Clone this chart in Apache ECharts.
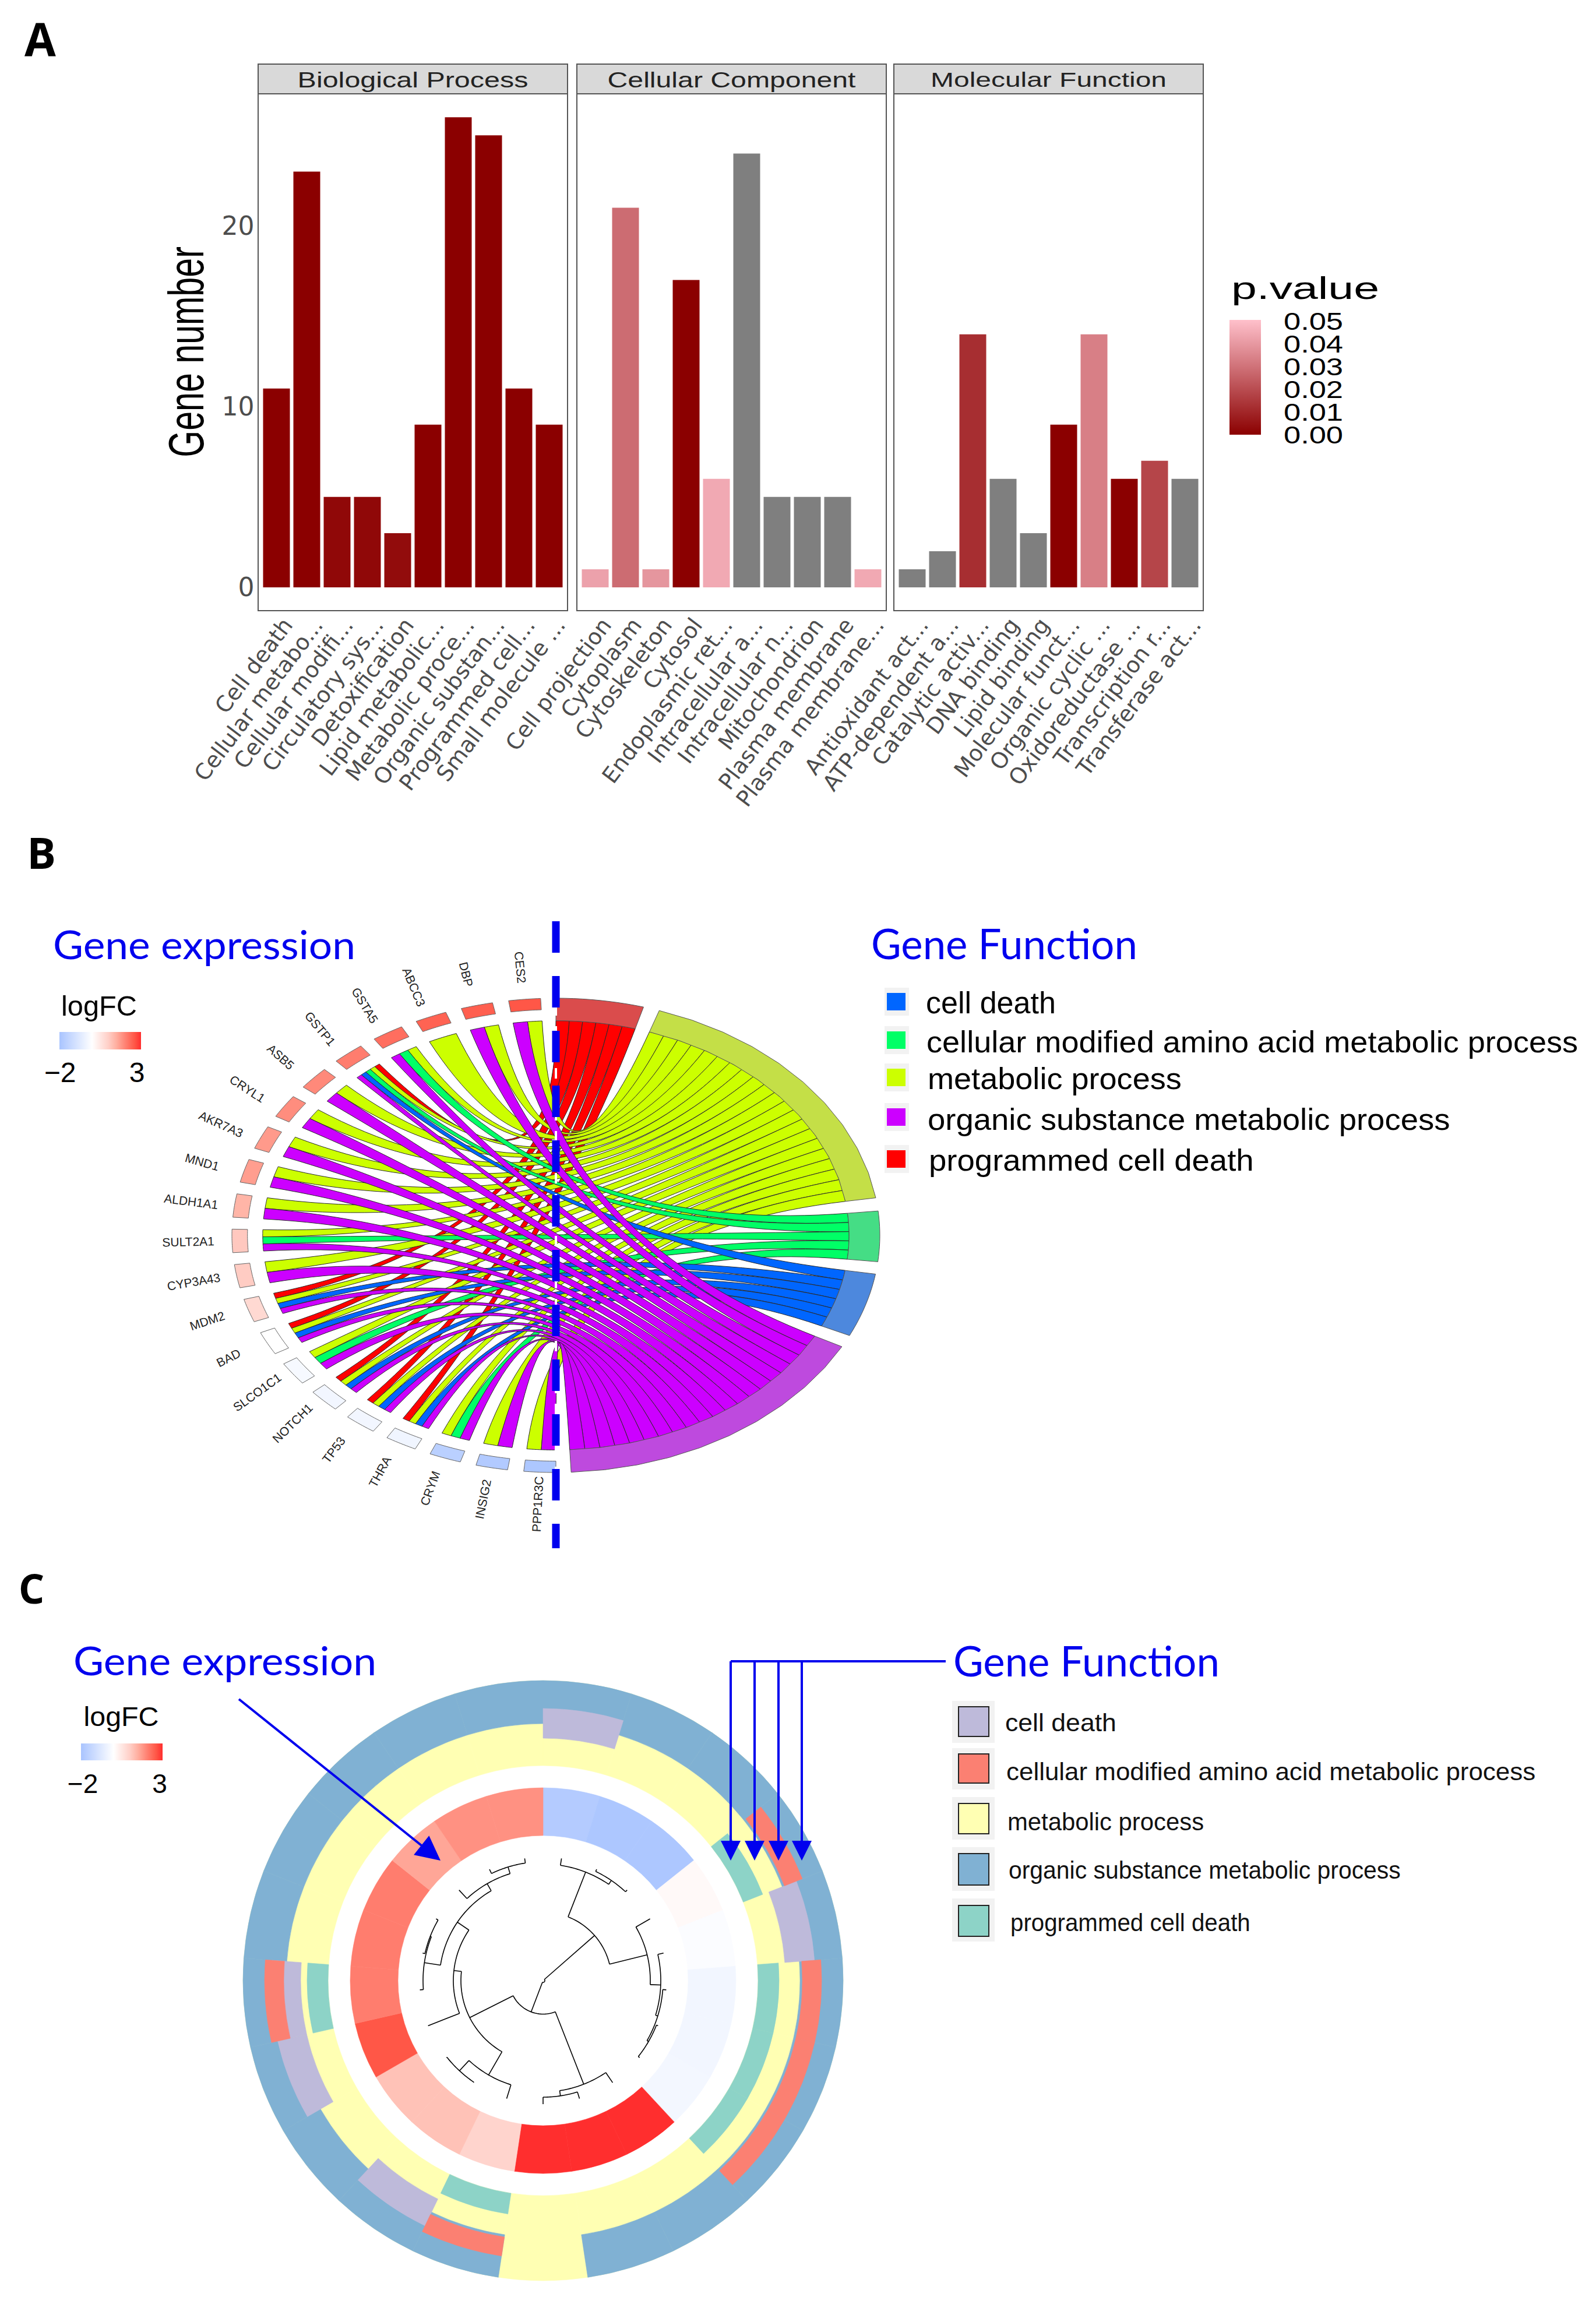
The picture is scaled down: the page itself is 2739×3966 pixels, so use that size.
<!DOCTYPE html>
<html>
<head>
<meta charset="utf-8">
<style>html,body{margin:0;padding:0;background:#fff}#c{width:2739px;height:3966px}</style>
<script src="https://cdn.jsdelivr.net/npm/echarts@6/dist/echarts.min.js"></script>
</head>
<body>
<div id="c"></div>
<script>
/* ---------- Panel A data ---------- */
const facetNames = ['Biological Process', 'Cellular Component', 'Molecular Function'];
const catsBP = ['Cell death','Cellular metabo...','Cellular modifi...','Circulatory sys...','Detoxification','Lipid metabolic...','Metabolic proce...','Organic substan...','Programmed cell...','Small molecule ...'];
const catsCC = ['Cell projection','Cytoplasm','Cytoskeleton','Cytosol','Endoplasmic ret...','Intracellular a...','Intracellular n...','Mitochondrion','Plasma membrane','Plasma membrane...'];
const catsMF = ['Antioxidant act...','ATP-dependent a...','Catalytic activ...','DNA binding','Lipid binding','Molecular funct...','Organic cyclic ...','Oxidoreductase ...','Transcription r...','Transferase act...'];
const valsBP = [11,23,5,5,3,9,26,25,11,9];
const valsCC = [1,21,1,17,6,24,5,5,5,1];
const valsMF = [1,2,14,6,3,9,14,6,7,6];
const pBP = [0,0,0.002,0.002,0.003,0,0,0,0,0];
const pCC = [0.042,0.028,0.039,0,0.044,null,null,null,null,0.044];
const pMF = [null,null,0.012,null,null,0,0.033,0,0.018,null];
const yTicks = [0,10,20];
const pLegendTicks = ['0.05','0.04','0.03','0.02','0.01','0.00'];

/* ---------- Panel B data ---------- */
const genes = ['CES2','DBP','ABCC3','GSTA5','GSTP1','ASB5','CRYL1','AKR7A3','MND1','ALDH1A1','SULT2A1','CYP3A43','MDM2','BAD','SLCO1C1','NOTCH1','TP53','THRA','CRYM','INSIG2','PPP1R3C'];
const geneLogFC = [2.6,2.5,2.45,2.3,2.1,1.95,1.9,1.75,1.7,1.4,1.1,1.05,0.8,0,-0.2,-0.3,-0.3,-0.35,-1.6,-1.8,-1.9];
const geneTerms = ['YP','YP','Y','YGP','RYGBP','YP','YP','YP','YP','YP','YGP','YP','RYBP','RYBP','YGP','RYBP','RYBP','RYBP','YGP','YP','YP'];
const functionKeys = ['R','Y','G','B','P'];
const functionColors = {R:'#FF0000',Y:'#CCFF00',G:'#00FF66',B:'#0066FF',P:'#CC00FF'};
const functionRing = {R:'#DA4C4C',Y:'#C4DF47',G:'#45DD85',B:'#4D88DD',P:'#BE4ADE'};
const functionSpan = {R:[0,15.7],Y:[18.6,80.9],G:[84.1,96.4],B:[99.4,115],P:[118,177.3]};
const legendNamesB = ['cell death','cellular modified amino acid metabolic process','metabolic process','organic substance metabolic process','programmed cell death'];
const legendColorsB = ['#0066FF','#00FF66','#CCFF00','#CC00FF','#FF0000'];

/* ---------- Panel C data ---------- */
const slotLogFC = [-1.75,-1.9,-1.9,0.12,-0.1,-0.3,-0.3,-0.27,3,3,3,0.9,1.2,1.2,2.6,2.1,2.1,2.1,1.6,1.85,1.85];
const slotsMetabolic = [0,1,2,3,4,5,6,7,8,9,10,11,12,13,14,15,16,17,18,19,20];
const slotsOrganic = [0,1,2,3,4,5,6,7,8,9,11,12,13,14,15,16,17,18,19,20];
const slotsCellDeath = [0,4,12,14,15];
const slotsAmino = [3,5,6,7,11,15];
const slotsProgrammed = [3,5,6,7,11,15];
const dendrogram = [3,[117.5,[200,0,[208,1,2]],[184,3,[202,4,[206,5,[209,6,7]]]]],[57.5,[191,8,[200,9,10]],[141,[187,11,[211,12,13]],[154,14,[178,[206,15,[208,16,17]],[192,18,[204,19,20]]]]]]];
const legendNamesC = ['cell death','cellular modified amino acid metabolic process','metabolic process','organic substance metabolic process','programmed cell death'];
const legendColorsC = ['#BEBADA','#FB8072','#FFFFB3','#80B1D3','#8DD3C7'];

/* ---------- helpers ---------- */
const BLUE = '#0000EE';
const mctx = document.createElement('canvas').getContext('2d');
function T(text, x, y, o) {
  o = o || {};
  const size = o.size || 40, fam = o.fam || 'Liberation Sans', weight = o.weight || 'normal';
  let sx = 1;
  if (o.w) { mctx.font = weight + ' ' + size + 'px "' + fam + '"'; sx = o.w / mctx.measureText(text).width; }
  const align = o.align || 'left';
  return {type:'text', x, y, rotation:o.rot || 0, scaleX:sx, z:100, silent:true,
    style:{text, fontSize:size, fontFamily:fam, fontWeight:weight, fill:o.color || '#000',
      align, verticalAlign:'middle', textAlign:align, textVerticalAlign:'middle'}};
}
function R(x, y, w, h, fill, stroke, lw) {
  return {type:'rect', z:100, silent:true, shape:{x,y,width:w,height:h}, style:{fill:fill || 'none', stroke:stroke || 'none', lineWidth:lw || 0}};
}
function L(x1, y1, x2, y2, color, lw, dash) {
  return {type:'line', z:100, silent:true, shape:{x1,y1,x2,y2}, style:{stroke:color, lineWidth:lw, lineDash:dash || null}};
}
function Head(x1, y1, x2, y2, len, half, color) {
  const d = Math.hypot(x2-x1, y2-y1), ux = (x2-x1)/d, uy = (y2-y1)/d;
  const bx = x2-ux*len, by = y2-uy*len;
  return {type:'polygon', z:101, silent:true, shape:{points:[[x2,y2],[bx-uy*half,by+ux*half],[bx+uy*half,by-ux*half]]}, style:{fill:color}};
}
function mix(a, b, t) {
  const pa = [1,3,5].map(i => parseInt(a.substr(i,2),16)), pb = [1,3,5].map(i => parseInt(b.substr(i,2),16));
  return 'rgb(' + pa.map((v,i) => Math.round(v+(pb[i]-v)*t)).join(',') + ')';
}
function pColor(p) { return p === null ? '#7F7F7F' : mix('#8B0000', '#FFC0CB', p/0.05); }
const fcScale = [[-2,'#A9C4FF'],[0,'#FFFFFF'],[1,'#FFCFC7'],[1.5,'#FFAE9F'],[2,'#FF8576'],[2.6,'#FF5747'],[3,'#FF2E2E']];
function fcColor(v) {
  for (let i=1;i<fcScale.length;i++) {
    if (v <= fcScale[i][0]) return mix(fcScale[i-1][1], fcScale[i][1], (v-fcScale[i-1][0])/(fcScale[i][0]-fcScale[i-1][0]));
  }
  return fcScale[fcScale.length-1][1];
}
const fcStops = fcScale.map(s => ({offset:(s[0]+2)/5, color:s[1]}));
const DEG = Math.PI/180;

/* ---------- Panel A ---------- */
const panelX = [443, 990, 1534], panelW = 531;
const pTop = 161, pBottom = 1048, stripTop = 110;
const facets = [[catsBP,valsBP,pBP],[catsCC,valsCC,pCC],[catsMF,valsMF,pMF]];
const grids = [], xAxes = [], yAxes = [], series = [];
facets.forEach((f,i) => {
  grids.push({left:panelX[i]+5.5, width:520, top:pTop, height:pBottom-pTop});
  xAxes.push({type:'category', gridIndex:i, data:f[0], axisLine:{show:false}, axisTick:{show:false},
    axisLabel:{interval:0, rotate:53, fontSize:38, color:'#4d4d4d', fontFamily:'DejaVu Sans', margin:3, verticalAlign:'top', align:'right', padding:[5,0,0,0]}});
  yAxes.push({type:'value', gridIndex:i, min:-1.29, max:27.3, splitLine:{show:false}, axisLine:{show:false},
    axisTick:{show:false},
    axisLabel:{show:i===0, customValues:yTicks, fontSize:44, color:'#4d4d4d', fontFamily:'DejaVu Sans', margin:12}});
  series.push({type:'bar', xAxisIndex:i, yAxisIndex:i, barWidth:46, silent:true,
    data:f[1].map((v,k) => ({value:v, itemStyle:{color:pColor(f[2][k])}}))});
});

/* ---------- Panel B ---------- */
const B = {cx:954, cy:2120, rx:556, ry:407};
function ptL(t, r) { return [B.cx - B.rx*r*Math.sin(t*DEG), B.cy - B.ry*r*Math.cos(t*DEG)]; }
function ptR(t, r) { return [B.cx + B.rx*r*Math.sin(t*DEG), B.cy - B.ry*r*Math.cos(t*DEG)]; }
function arcPts(fn, t0, t1, r) { const a=[]; for (let i=0;i<=10;i++) a.push(fn(t0+(t1-t0)*i/10, r)); return a; }
function bez(p0, p2) { const a=[]; for (let i=1;i<40;i++){const s=i/40,u=1-s; a.push([u*u*p0[0]+2*u*s*B.cx+s*s*p2[0], u*u*p0[1]+2*u*s*B.cy+s*s*p2[1]]);} return a; }
const geneStart = i => 2.7 + 8.58*i, geneWidth = 5.7, rBand = 0.905;
const linksByFn = {};
functionKeys.forEach(k => linksByFn[k] = []);
geneTerms.forEach((s,i) => { [...s].forEach((k,j) => linksByFn[k].push([i,j,s.length])); });
functionKeys.forEach(k => {
  const links = linksByFn[k], span = functionSpan[k], unit = (span[1]-span[0])/links.length;
  series.push({type:'custom', coordinateSystem:'none', silent:true, clip:false, z:3,
    data:links.map((l,n) => [l[0],l[1],l[2],n]),
    renderItem(params, api) {
      const g = api.value(0), j = api.value(1), m = api.value(2), n = api.value(3);
      const g0 = geneStart(g)+geneWidth*j/m, g1 = geneStart(g)+geneWidth*(j+1)/m;
      const f0 = span[0]+unit*n, f1 = span[0]+unit*(n+1);
      const a = arcPts(ptL,g0,g1,rBand), pg1 = ptL(g1,rBand), pf1 = ptR(f1,rBand), pf0 = ptR(f0,rBand), pg0 = ptL(g0,rBand);
      const pts = a.concat(bez(pg1,pf1), arcPts(ptR,f1,f0,rBand), bez(pf0,pg0));
      return {type:'polygon', shape:{points:pts}, style:{fill:functionColors[k], stroke:'#2a2a2a', lineWidth:1}};
    }});
});
series.push({type:'custom', coordinateSystem:'none', silent:true, clip:false, z:4,
  data:functionKeys.map((k,i) => [i]),
  renderItem(params, api) {
    const k = functionKeys[api.value(0)], s = functionSpan[k];
    const pts = arcPts(ptR,s[0],s[1],1).concat(arcPts(ptR,s[1],s[0],rBand));
    return {type:'polygon', shape:{points:pts}, style:{fill:functionRing[k], stroke:'#555', lineWidth:1}};
  }});
series.push({type:'custom', coordinateSystem:'none', silent:true, clip:false, z:4,
  data:geneLogFC.map((v,i) => [i,v]),
  renderItem(params, api) {
    const i = api.value(0), t = geneStart(i);
    const pts = arcPts(ptL,t,t+geneWidth,1).concat(arcPts(ptL,t+geneWidth,t,0.952));
    return {type:'polygon', shape:{points:pts}, style:{fill:fcColor(api.value(1)), stroke:'#666', lineWidth:1}};
  }});

/* ---------- Panel C ---------- */
const C = {cx:932, cy:3399};
const slotDeg = 360/21;
function sectorSeries(slots, r0, r1, color, z) {
  series.push({type:'custom', coordinateSystem:'none', silent:true, clip:false, z,
    data:slots.map(s => [s]),
    renderItem(params, api) {
      const s = api.value(0);
      return {type:'sector', shape:{cx:C.cx, cy:C.cy, r0:r0, r:r1, startAngle:(s*slotDeg-90)*DEG, endAngle:((s+1)*slotDeg-90)*DEG, clockwise:true},
        style:{fill:color, stroke:color, lineWidth:0.6}};
    }});
}
sectorSeries(slotsMetabolic, 369, 515, '#FFFFB3', 3);
sectorSeries(slotsOrganic, 441, 515, '#80B1D3', 4);
sectorSeries(slotsCellDeath, 416, 467, '#BEBADA', 5);
sectorSeries(slotsAmino, 445, 478, '#FB8072', 6);
sectorSeries(slotsProgrammed, 369, 405, '#8DD3C7', 7);
series.push({type:'custom', coordinateSystem:'none', silent:true, clip:false, z:5,
  data:slotLogFC.map((v,i) => [i,v]),
  renderItem(params, api) {
    const s = api.value(0);
    return {type:'sector', shape:{cx:C.cx, cy:C.cy, r0:249, r:331, startAngle:(s*slotDeg-90)*DEG, endAngle:((s+1)*slotDeg-90)*DEG, clockwise:true},
      style:{fill:fcColor(api.value(1)), stroke:fcColor(api.value(1)), lineWidth:0.6}};
  }});
const dendroSegments = [];
const leafR = 212;
function walk(n, parentR) {
  if (typeof n === 'number') {
    const a = (n+0.5)*slotDeg;
    dendroSegments.push([0, a, parentR, leafR]);
    return a;
  }
  const a0 = walk(n[1], n[0]), a1 = walk(n[2], n[0]), a = (a0+a1)/2;
  dendroSegments.push([1, a0, a1, n[0]]);
  if (parentR !== null) dendroSegments.push([0, a, parentR, n[0]]);
  return a;
}
walk(dendrogram, null);
series.push({type:'custom', coordinateSystem:'none', silent:true, clip:false, z:6,
  data:dendroSegments,
  renderItem(params, api) {
    const kind = api.value(0), st = {stroke:'#000', lineWidth:1.6, fill:'none'};
    if (kind === 0) {
      const a = api.value(1)*DEG, r0 = api.value(2), r1 = api.value(3);
      return {type:'line', shape:{x1:C.cx+r0*Math.sin(a), y1:C.cy-r0*Math.cos(a), x2:C.cx+r1*Math.sin(a), y2:C.cy-r1*Math.cos(a)}, style:st};
    }
    const a0 = api.value(1), a1 = api.value(2), r = api.value(3), pts = [];
    for (let i=0;i<=24;i++){const t=(a0+(a1-a0)*i/24)*DEG; pts.push([C.cx+r*Math.sin(t), C.cy-r*Math.cos(t)]);}
    return {type:'polyline', shape:{points:pts}, style:st};
  }});

/* ---------- annotations ---------- */
const g = [];
g.push(T('A',69,66,{size:78,fam:'Open Sans',weight:'bold',align:'center'}));
g.push(T('B',71,1462,{size:74,fam:'Open Sans',weight:'bold',align:'center'}));
g.push(T('C',54,2725,{size:70,fam:'Open Sans',weight:'bold',align:'center'}));
// panel A frame, strips
const stripTextW = [396,426,405];
facetNames.forEach((n,i) => {
  g.push(R(panelX[i],stripTop,panelW,pTop-stripTop,'#D9D9D9','#555',2));
  g.push(R(panelX[i],pTop,panelW,pBottom-pTop,null,'#555',2));
  g.push(T(n,panelX[i]+panelW/2,137,{size:36,w:stripTextW[i],align:'center',color:'#222'}));
});
g.push(T('Gene number',319,604,{size:86,w:362,align:'center',rot:Math.PI/2}));
g.push(T('p.value',2113,494,{size:54,w:254}));
g.push({type:'rect',z:100,silent:true,shape:{x:2110,y:549,width:54,height:197},style:{fill:{type:'linear',x:0,y:0,x2:0,y2:1,colorStops:[{offset:0,color:'#FFC0CB'},{offset:1,color:'#8B0000'}]}}});
pLegendTicks.forEach((s,i) => {
  const y = 551 + i*39;
  g.push(T(s,2203,y,{size:43,w:102}));
});
// panel B
g.push(L(954,1581,954,2657,'#FFFFFF',4,[18,18]));
g.push(L(954,1581,954,2657,BLUE,13,[54,40]));
g.push(T('Gene expression',91,1620,{size:68,fam:'Lato',w:519,color:BLUE}));
g.push(T('Gene Function',1495,1618,{size:72,fam:'Lato',w:457,color:BLUE}));
g.push(T('logFC',170,1726,{size:48,w:130,align:'center'}));
g.push({type:'rect',z:100,silent:true,shape:{x:102,y:1771,width:140,height:30},style:{fill:{type:'linear',x:0,y:0,x2:1,y2:0,colorStops:fcStops}}});
g.push(T('\u22122',103,1840,{size:48,align:'center'}));
g.push(T('3',235,1840,{size:48,align:'center'}));
genes.forEach((n,i) => {
  const t = geneStart(i)+geneWidth/2, p = ptL(t,1.135);
  g.push(T(n,p[0],p[1],{size:21,align:'center',color:'#222',rot:(t-90)*DEG}));
});
const bRowsBox = [1704,1770,1834,1902,1974], bRowsText = [1721,1788,1851,1921,1991];
const bTextX = [1589,1590,1592,1592,1594], bTextW = [223,1118,436,897,558];
legendNamesB.forEach((n,i) => {
  g.push(R(1518,bRowsBox[i]-9,42,48,'#F2F2F2'));
  g.push(R(1522,bRowsBox[i],32,30,legendColorsB[i]));
  g.push(T(n,bTextX[i],bRowsText[i],{size:52,w:bTextW[i]}));
});
// panel C
g.push(T('Gene expression',126,2849,{size:68,fam:'Lato',w:520,color:BLUE}));
g.push(T('Gene Function',1636,2849,{size:72,fam:'Lato',w:457,color:BLUE}));
g.push(T('logFC',208,2946,{size:46,w:129,align:'center'}));
g.push({type:'rect',z:100,silent:true,shape:{x:139,y:2992,width:140,height:29},style:{fill:{type:'linear',x:0,y:0,x2:1,y2:0,colorStops:fcStops}}});
g.push(T('\u22122',142,3061,{size:46,align:'center'}));
g.push(T('3',274,3061,{size:46,align:'center'}));
g.push(L(410,2916,732,3174,BLUE,4));
g.push(Head(410,2916,756,3193,42,21,BLUE));
g.push(L(1254,2851,1623,2851,BLUE,4));
[1254,1295,1336,1376].forEach(x => {
  g.push(L(x,2851,x,3165,BLUE,4));
  g.push(Head(x,2851,x,3193,34,17,BLUE));
});
const cBg = [2919,3000,3084,3170,3258], cBox = [2929,3010,3095,3181,3270], cBoxH = [51,50,52,54,53];
const cText = [2956,3040,3126,3209,3300], cTextX = [1725,1727,1729,1731,1734], cTextW = [191,908,337,673,412];
legendNamesC.forEach((n,i) => {
  g.push(R(1634,cBg[i],73,cBoxH[i]+21,'#F2F2F2'));
  g.push(R(1645,cBox[i],52,cBoxH[i],legendColorsC[i],'#222',2));
  g.push(T(n,cTextX[i],cText[i],{size:42,w:cTextW[i],color:'#111'}));
});

const chart = echarts.init(document.getElementById('c'), null, {renderer:'svg', width:2739, height:3966});
chart.setOption({animation:false, backgroundColor:'#fff', grid:grids, xAxis:xAxes, yAxis:yAxes, series, graphic:{elements:g}});
</script>
</body>
</html>
